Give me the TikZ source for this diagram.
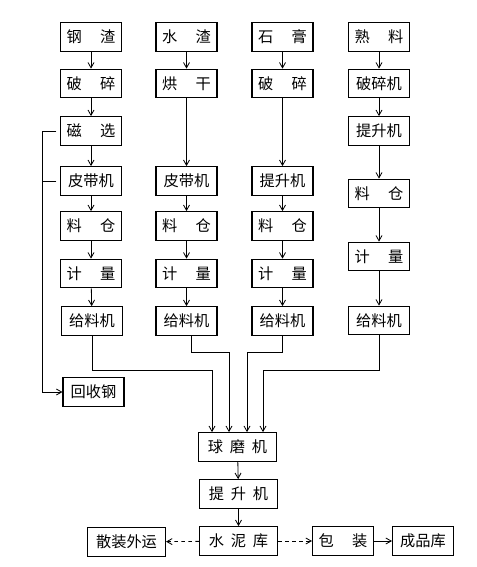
\documentclass[tikz,border=0pt]{standalone}
\usepackage{fontspec}
\newfontfamily\cjk{Noto Sans CJK SC}
\usetikzlibrary{arrows.meta}
\newcommand{\wsp}{\hspace{1.2em}}
\newcommand{\nsp}{\hspace{0.45em}}
\tikzset{
  >={Straight Barb[length=1.6mm,width=1.8mm]},
  proc/.style={draw=black,line width=0.9pt,fill=white,align=center,font=\cjk\fontsize{13pt}{15pt}\selectfont,minimum width=1.83cm,minimum height=0.86cm,inner sep=1pt},
  wideproc/.style={proc,minimum width=2.34cm},
  flow/.style={->,line width=0.7pt,draw=black},
  feed/.style={line width=0.7pt,draw=black}
}
\begin{document}
\begin{tikzpicture}[x=0.03cm,y=-0.03cm]
  \useasboundingbox (0,0) rectangle (476,567);
  % column 1: steel slag
  \node[proc] (c1a) at (91,37) {钢\wsp 渣};
  \node[proc] (c1b) at (91,83.5) {破\wsp 碎};
  \node[proc] (c1c) at (91,131) {磁\wsp 选};
  \node[proc] (c1d) at (91,181) {皮带机};
  \node[proc] (c1e) at (91,226) {料\wsp 仓};
  \node[proc] (c1f) at (91,273.5) {计\wsp 量};
  \node[proc] (c1g) at (92,321) {给料机};
  \node[proc] (steel) at (93.5,392) {回收钢};
  % column 2: water slag
  \node[proc] (c2a) at (186.5,37) {水\wsp 渣};
  \node[proc] (c2b) at (186.5,83.5) {烘\wsp 干};
  \node[proc] (c2d) at (186.5,181) {皮带机};
  \node[proc] (c2e) at (186.5,226) {料\wsp 仓};
  \node[proc] (c2f) at (186.5,273.5) {计\wsp 量};
  \node[proc] (c2g) at (186.5,321) {给料机};
  % column 3: gypsum
  \node[proc] (c3a) at (282.5,37) {石\wsp 膏};
  \node[proc] (c3b) at (282.5,83.5) {破\wsp 碎};
  \node[proc] (c3d) at (282.5,181) {提升机};
  \node[proc] (c3e) at (282.5,226) {料\wsp 仓};
  \node[proc] (c3f) at (282.5,273.5) {计\wsp 量};
  \node[proc] (c3g) at (282.5,321) {给料机};
  % column 4: clinker
  \node[proc] (c4a) at (379,37) {熟\wsp 料};
  \node[proc] (c4b) at (379,83.5) {破碎机};
  \node[proc] (c4c) at (379,131) {提升机};
  \node[proc] (c4e) at (379,193.5) {料\wsp 仓};
  \node[proc] (c4f) at (379,256.5) {计\wsp 量};
  \node[proc] (c4g) at (379,320.5) {给料机};
  % mill and cement
  \node[wideproc] (mill) at (237.5,447) {球\nsp 磨\nsp 机};
  \node[wideproc] (lift) at (238.5,494) {提\nsp 升\nsp 机};
  \node[wideproc] (cem) at (238.5,541) {水\nsp 泥\nsp 库};
  \node[wideproc] (bulk) at (126.5,542) {散装外运};
  \node[proc] (pack) at (343,541) {包\wsp 装};
  \node[proc] (store) at (423,541) {成品库};
  \coordinate (fb) at (42,131);
  \coordinate (m1) at (212,370);
  \coordinate (m2) at (229,352);
  \coordinate (m3) at (247,352);
  \coordinate (m4) at (263,370);
    \draw[flow] (c1a)--(c1b);
    \draw[flow] (c1b)--(c1c);
    \draw[flow] (c1c)--(c1d);
    \draw[flow] (c1d)--(c1e);
    \draw[flow] (c1e)--(c1f);
    \draw[flow] (c1f)--(c1g);
    \draw[flow] (c2a)--(c2b);
    \draw[flow] (c2b)--(c2d);
    \draw[flow] (c2d)--(c2e);
    \draw[flow] (c2e)--(c2f);
    \draw[flow] (c2f)--(c2g);
    \draw[flow] (c3a)--(c3b);
    \draw[flow] (c3b)--(c3d);
    \draw[flow] (c3d)--(c3e);
    \draw[flow] (c3e)--(c3f);
    \draw[flow] (c3f)--(c3g);
    \draw[flow] (c4a)--(c4b);
    \draw[flow] (c4b)--(c4c);
    \draw[flow] (c4c)--(c4e);
    \draw[flow] (c4e)--(c4f);
    \draw[flow] (c4f)--(c4g);
    % scrap steel return
    \draw[flow,shorten <=3pt] (c1c.west)--(fb)|-(steel.west);
    \draw[feed,shorten <=3pt] (c1d.west)--(c1d.west -| fb);
    % feeders to the mill
    \draw[flow] (c1g.south)|-(m1)--(m1 |- mill.north);
    \draw[flow] ([xshift=0.16cm]c2g.south)|-(m2)--(m2 |- mill.north);
    \draw[flow] (c3g.south)|-(m3)--(m3 |- mill.north);
    \draw[flow] (c4g.south)|-(m4)--(m4 |- mill.north);
    \draw[flow] (mill)--(lift);
    \draw[flow] (lift)--(cem);
    \draw[flow,dashed] (cem)--(bulk);
    \draw[flow,dashed] (cem)--(pack);
    \draw[flow] (pack)--(store);
\end{tikzpicture}
\end{document}
